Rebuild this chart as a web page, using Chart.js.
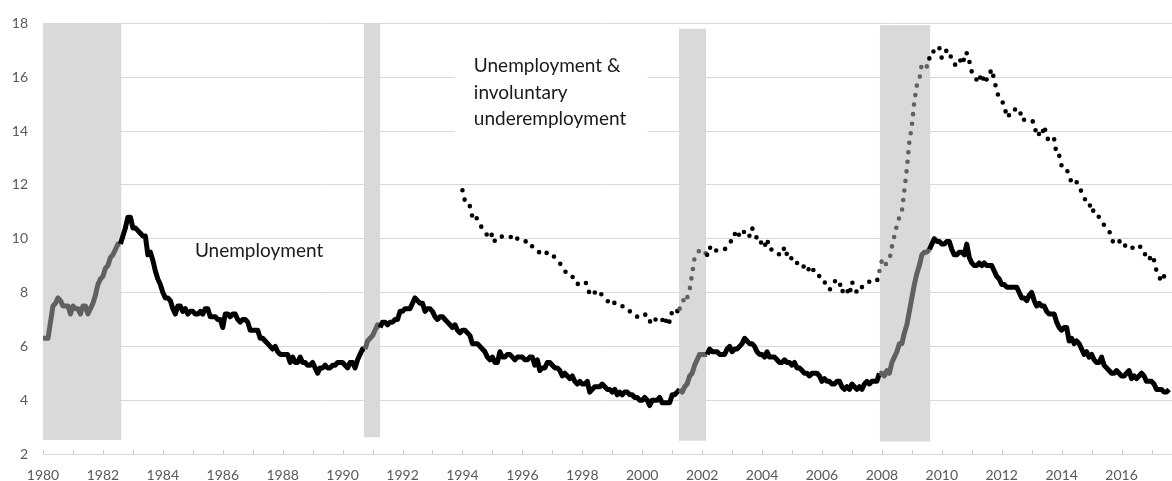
<!DOCTYPE html>
<html>
<head>
<meta charset="utf-8">
<script src="https://cdn.jsdelivr.net/npm/chart.js@4.4.1/dist/chart.umd.min.js"></script>
<style>
  html, body { margin: 0; padding: 0; background: #fff; }
  canvas { display: block; }
</style>
</head>
<body>
<canvas id="chart" width="1172" height="481"></canvas>
<script>
// monthly rates, U-3 from Jan 1980, U-6 from Jan 1994
const firstYearU3 = 1980;
const firstYearU6 = 1994;

const unemployment = [
  6.3,6.3,6.3,6.9,7.5,7.6,7.8,7.7,7.5,7.5,7.5,7.2,        // 1980
  7.5,7.4,7.4,7.2,7.5,7.5,7.2,7.4,7.6,7.9,8.3,8.5,        // 1981
  8.6,8.9,9.0,9.3,9.4,9.6,9.8,9.8,10.1,10.4,10.8,10.8,    // 1982
  10.4,10.4,10.3,10.2,10.1,10.1,9.4,9.5,9.2,8.8,8.5,8.3,  // 1983
  8.0,7.8,7.8,7.7,7.4,7.2,7.5,7.5,7.3,7.4,7.2,7.3,        // 1984
  7.3,7.2,7.2,7.3,7.2,7.4,7.4,7.1,7.1,7.1,7.0,7.0,        // 1985
  6.7,7.2,7.2,7.1,7.2,7.2,7.0,6.9,7.0,7.0,6.9,6.6,        // 1986
  6.6,6.6,6.6,6.3,6.3,6.2,6.1,6.0,5.9,6.0,5.8,5.7,        // 1987
  5.7,5.7,5.7,5.4,5.6,5.4,5.4,5.6,5.4,5.4,5.3,5.3,        // 1988
  5.4,5.2,5.0,5.2,5.2,5.3,5.2,5.2,5.3,5.3,5.4,5.4,        // 1989
  5.4,5.3,5.2,5.4,5.4,5.2,5.5,5.7,5.9,5.9,6.2,6.3,        // 1990
  6.4,6.6,6.8,6.7,6.9,6.9,6.8,6.9,6.9,7.0,7.0,7.3,        // 1991
  7.3,7.4,7.4,7.4,7.6,7.8,7.7,7.6,7.6,7.3,7.4,7.4,        // 1992
  7.3,7.1,7.0,7.1,7.1,7.0,6.9,6.8,6.7,6.8,6.6,6.5,        // 1993
  6.6,6.6,6.5,6.4,6.1,6.1,6.1,6.0,5.9,5.8,5.6,5.5,        // 1994
  5.6,5.4,5.4,5.8,5.6,5.6,5.7,5.7,5.6,5.5,5.6,5.6,        // 1995
  5.6,5.5,5.5,5.6,5.6,5.3,5.5,5.1,5.2,5.2,5.4,5.4,        // 1996
  5.3,5.2,5.2,5.1,4.9,5.0,4.9,4.8,4.9,4.7,4.6,4.7,        // 1997
  4.6,4.6,4.7,4.3,4.4,4.5,4.5,4.5,4.6,4.5,4.4,4.4,        // 1998
  4.3,4.4,4.2,4.3,4.2,4.3,4.3,4.2,4.2,4.1,4.1,4.0,        // 1999
  4.0,4.1,4.0,3.8,4.0,4.0,4.0,4.1,3.9,3.9,3.9,3.9,        // 2000
  4.2,4.2,4.3,4.4,4.3,4.5,4.6,4.9,5.0,5.3,5.5,5.7,        // 2001
  5.7,5.7,5.7,5.9,5.8,5.8,5.8,5.7,5.7,5.7,5.9,6.0,        // 2002
  5.8,5.9,5.9,6.0,6.1,6.3,6.2,6.1,6.1,6.0,5.8,5.7,        // 2003
  5.7,5.6,5.8,5.6,5.6,5.6,5.5,5.4,5.4,5.5,5.4,5.4,        // 2004
  5.3,5.4,5.2,5.2,5.1,5.0,5.0,4.9,5.0,5.0,5.0,4.9,        // 2005
  4.7,4.8,4.7,4.7,4.6,4.6,4.7,4.7,4.5,4.4,4.5,4.4,        // 2006
  4.6,4.5,4.4,4.5,4.4,4.6,4.7,4.6,4.7,4.7,4.7,5.0,        // 2007
  5.0,4.9,5.1,5.0,5.4,5.6,5.8,6.1,6.1,6.5,6.8,7.3,        // 2008
  7.8,8.3,8.7,9.0,9.4,9.5,9.5,9.6,9.8,10.0,9.9,9.9,       // 2009
  9.8,9.8,9.9,9.9,9.6,9.4,9.4,9.5,9.5,9.4,9.8,9.3,        // 2010
  9.1,9.0,9.0,9.1,9.0,9.1,9.0,9.0,9.0,8.8,8.6,8.5,        // 2011
  8.3,8.3,8.2,8.2,8.2,8.2,8.2,8.0,7.8,7.8,7.7,7.9,        // 2012
  8.0,7.7,7.5,7.6,7.5,7.5,7.3,7.2,7.2,7.2,6.9,6.7,        // 2013
  6.6,6.7,6.7,6.2,6.3,6.1,6.2,6.1,5.9,5.7,5.8,5.6,        // 2014
  5.7,5.5,5.4,5.4,5.6,5.3,5.2,5.1,5.0,5.0,5.1,5.0,        // 2015
  4.9,4.9,5.0,5.1,4.8,4.9,4.8,4.9,5.0,4.9,4.7,4.7,        // 2016
  4.7,4.6,4.4,4.4,4.4,4.3,4.3,4.4                         // 2017
];

const underemployment = [
  11.8,11.4,11.4,11.2,10.8,10.9,10.7,10.5,10.4,10.3,10.1,10.0, // 1994
  10.2,9.9,9.9,10.0,10.1,10.1,10.1,10.1,10.0,10.1,10.0,10.0,   // 1995
  9.9,9.9,9.9,9.9,9.7,9.6,9.5,9.5,9.4,9.4,9.5,9.4,             // 1996
  9.4,9.3,9.2,9.1,8.9,8.8,8.7,8.6,8.6,8.4,8.3,8.4,             // 1997
  8.4,8.4,8.3,7.9,8.0,8.0,8.1,8.0,7.9,7.8,7.7,7.6,             // 1998
  7.7,7.6,7.6,7.6,7.5,7.4,7.4,7.3,7.3,7.2,7.1,7.1,             // 1999
  7.1,7.2,7.1,6.9,7.1,7.0,7.0,7.1,7.0,6.8,7.1,6.9,             // 2000
  7.3,7.4,7.3,7.4,7.5,7.9,7.8,8.1,8.7,9.3,9.4,9.6,             // 2001
  9.5,9.5,9.4,9.7,9.5,9.5,9.6,9.6,9.6,9.6,9.7,9.8,             // 2002
  10.0,10.2,10.0,10.2,10.1,10.3,10.3,10.1,10.4,10.2,10.0,9.8,  // 2003
  9.9,9.7,10.0,9.6,9.6,9.5,9.5,9.4,9.4,9.7,9.4,9.2,            // 2004
  9.3,9.3,9.1,9.0,8.9,9.0,8.8,8.9,9.0,8.7,8.7,8.6,             // 2005
  8.4,8.4,8.2,8.1,8.2,8.4,8.5,8.4,8.0,8.2,8.1,7.9,             // 2006
  8.4,8.2,8.0,8.2,8.2,8.3,8.4,8.4,8.4,8.4,8.4,8.8,             // 2007
  9.2,9.0,9.1,9.2,9.7,10.1,10.5,10.8,11.0,11.8,12.6,13.6,      // 2008
  14.2,15.1,15.7,15.9,16.5,16.5,16.4,16.7,16.7,17.1,17.1,17.1, // 2009
  16.7,16.9,17.0,17.0,16.6,16.5,16.4,16.5,16.8,16.6,16.9,16.6, // 2010
  16.2,16.0,15.9,16.1,15.8,16.1,15.9,16.1,16.3,15.9,15.5,15.2, // 2011
  15.1,15.0,14.5,14.6,14.8,14.8,14.8,14.6,14.7,14.4,14.4,14.4, // 2012
  14.4,14.3,13.8,13.9,13.8,14.2,13.8,13.6,13.6,13.7,13.1,13.1, // 2013
  12.7,12.6,12.6,12.3,12.1,12.0,12.1,12.0,11.7,11.5,11.4,11.2, // 2014
  11.3,10.9,10.9,10.8,10.7,10.5,10.4,10.3,10.0,9.8,9.9,9.9,    // 2015
  9.9,9.7,9.8,9.7,9.7,9.6,9.7,9.7,9.7,9.5,9.3,9.2,             // 2016
  9.4,9.2,8.8,8.6,8.4,8.6,8.6,8.6                              // 2017
];

// shaded recession columns
const recessionStart  = [1980.0, 1990.71, 2001.22, 2007.93];
const recessionEnd    = [1982.62, 1991.26, 2002.14, 2009.62];
const recessionTop    = [18, 18, 17.8, 17.93];
const recessionBottom = [2.52, 2.62, 2.49, 2.46];

const yearLabels = ['1980','1982','1984','1986','1988','1990','1992','1994','1996',
  '1998','2000','2002','2004','2006','2008','2010','2012','2014','2016'];
const seriesLabels = ['Unemployment', 'Unemployment &', 'involuntary', 'underemployment'];

const BLACK = '#000000';
const DARKGRAY = '#606060';
const SHADE = '#d9d9d9';
const FONT = 'Lato';

function toPoints(values, startYear) {
  return values.map((v, i) => ({ x: startYear + i / 12, y: v }));
}

function inRecession(x) {
  for (let i = 0; i < recessionStart.length; i++) {
    if (x >= recessionStart[i] && x <= recessionEnd[i]) return true;
  }
  return false;
}

function segColor(ctx) {
  const mid = (ctx.p0.parsed.x + ctx.p1.parsed.x) / 2;
  return inRecession(mid) ? DARKGRAY : BLACK;
}

let datasets = [
  {
    data: toPoints(unemployment, firstYearU3),
    borderColor: BLACK,
    borderWidth: 5,
    borderJoinStyle: 'round',
    pointRadius: 0,
    tension: 0,
    segment: { borderColor: segColor },
    order: 0,
  },
  {
    data: toPoints(underemployment, firstYearU6),
    borderColor: BLACK,
    borderWidth: 4.6,
    borderDash: [0, 9.6],
    borderCapStyle: 'round',
    borderJoinStyle: 'round',
    pointRadius: 0,
    tension: 0,
    segment: { borderColor: segColor },
    order: 1,
  },
];

for (let i = 0; i < recessionStart.length; i++) {
  datasets.push({
    data: [
      { x: recessionStart[i], y: recessionTop[i] },
      { x: recessionEnd[i], y: recessionTop[i] },
    ],
    borderColor: 'rgba(0,0,0,0)',
    borderWidth: 0,
    pointRadius: 0,
    backgroundColor: SHADE,
    fill: { value: recessionBottom[i] },
    order: 10,
  });
}

// tick marks, label box and series labels
const extras = {
  id: 'extras',
  beforeDatasetsDraw(chart) {
    const { ctx, scales: { x, y } } = chart;
    ctx.save();
    // white box behind the U-6 label
    ctx.fillStyle = '#ffffff';
    const l = x.getPixelForValue(1993.74), r = x.getPixelForValue(2000.18);
    const t = y.getPixelForValue(17.15), b = y.getPixelForValue(13.8);
    ctx.fillRect(l, t, r - l, b - t);
    // small year ticks pointing up from the axis
    ctx.strokeStyle = '#c8c8c8';
    ctx.lineWidth = 1;
    const base = y.getPixelForValue(2);
    x.ticks.forEach(tk => {
      const px = Math.round(x.getPixelForValue(tk.value)) + 0.5;
      ctx.beginPath();
      ctx.moveTo(px, base);
      ctx.lineTo(px, base - 4);
      ctx.stroke();
    });
    ctx.restore();
  },
  afterDatasetsDraw(chart) {
    const { ctx, scales: { x, y } } = chart;
    ctx.save();
    ctx.fillStyle = '#1a1a1a';
    ctx.font = '19px ' + FONT;
    ctx.textBaseline = 'alphabetic';
    ctx.textAlign = 'left';
    ctx.fillText(seriesLabels[0], x.getPixelForValue(1985.07), y.getPixelForValue(9.31));
    ctx.fillText(seriesLabels[1], x.getPixelForValue(1994.38), y.getPixelForValue(16.19));
    ctx.fillText(seriesLabels[2], x.getPixelForValue(1994.38), y.getPixelForValue(15.20));
    ctx.fillText(seriesLabels[3], x.getPixelForValue(1994.38), y.getPixelForValue(14.22));
    ctx.restore();
  }
};

new Chart(document.getElementById('chart'), {
  type: 'line',
  data: { datasets: datasets },
  options: {
    responsive: false,
    animation: false,
    devicePixelRatio: 1,
    layout: { padding: { top: 22, right: 0, bottom: 0, left: 0 } },
    plugins: {
      legend: { display: false },
      tooltip: { enabled: false },
    },
    scales: {
      x: {
        type: 'linear',
        min: 1980,
        max: 2017.683,
        afterFit: function (scale) { scale.height = 27; },
        grid: { display: false, drawTicks: false },
        border: { display: true, color: '#d9d9d9', width: 1 },
        ticks: {
          stepSize: 1,
          includeBounds: false,
          autoSkip: false,
          maxRotation: 0,
          padding: 13,
          color: '#595959',
          font: { family: FONT, size: 14 },
          callback: function (v) {
            return yearLabels.includes(String(v)) ? String(v) : '';
          },
        },
      },
      y: {
        min: 2,
        max: 18,
        afterFit: function (scale) { scale.width = 43; },
        grid: { color: '#d9d9d9', lineWidth: 1, drawTicks: false },
        border: { display: false },
        ticks: {
          stepSize: 2,
          padding: 15,
          color: '#595959',
          font: { family: FONT, size: 14 },
        },
      },
    },
  },
  plugins: [extras],
});
</script>
</body>
</html>
